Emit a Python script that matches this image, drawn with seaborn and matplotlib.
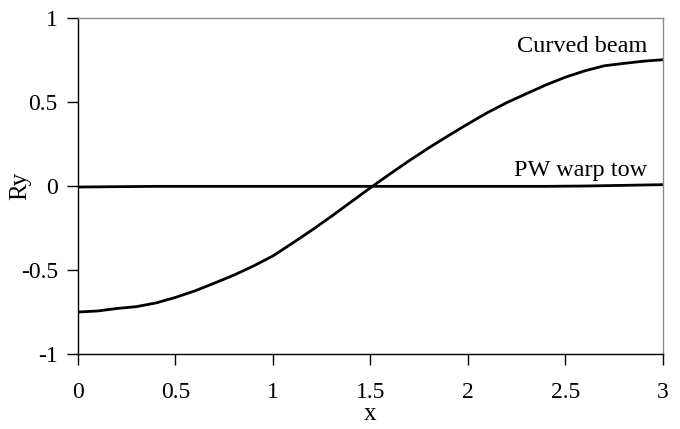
import matplotlib
matplotlib.use("Agg")
import matplotlib.pyplot as plt
import seaborn as sns
import pandas as pd

# Position along the member
x_vals = [0.0, 0.1, 0.2, 0.3, 0.4, 0.5, 0.6, 0.7, 0.8, 0.9, 1.0,
          1.1, 1.2, 1.3, 1.4, 1.5, 1.6, 1.7, 1.8, 1.9, 2.0,
          2.1, 2.2, 2.3, 2.4, 2.5, 2.6, 2.7, 2.8, 2.9, 3.0]

# Ry response for each model
curved_beam = [-0.750, -0.744, -0.729, -0.718, -0.696, -0.663, -0.624, -0.578, -0.530, -0.476, -0.416,
               -0.340, -0.262, -0.180, -0.095, -0.010, 0.072, 0.152, 0.228, 0.300, 0.370,
               0.437, 0.497, 0.550, 0.602, 0.648, 0.686, 0.716, 0.730, 0.743, 0.752]
pw_warp_tow = [-0.006, -0.005, -0.004, -0.003, -0.002, -0.002, -0.002, -0.002, -0.002, -0.002, -0.002,
               -0.002, -0.002, -0.002, -0.002, -0.002, -0.002, -0.002, -0.002, -0.002, -0.002,
               -0.002, -0.002, -0.002, -0.002, -0.001, 0.000, 0.002, 0.004, 0.006, 0.008]

series_names = ["Curved beam", "PW warp tow"]
x_ticks = [0, 0.5, 1, 1.5, 2, 2.5, 3]
x_tick_labels = ["0", "0.5", "1", "1.5", "2", "2.5", "3"]
y_ticks = [-1, -0.5, 0, 0.5, 1]
y_tick_labels = ["-1", "-0.5", "0", "0.5", "1"]

df = pd.concat([
    pd.DataFrame({"x": x_vals, "Ry": curved_beam, "model": series_names[0]}),
    pd.DataFrame({"x": x_vals, "Ry": pw_warp_tow, "model": series_names[1]}),
])

sns.set_theme(style="white")
plt.rcParams["font.family"] = ["Liberation Serif", "DejaVu Serif"]

fig = plt.figure(figsize=(6.8, 4.29), dpi=100)
ax = fig.add_axes([0.1147, 0.1748, 0.8603, 0.7832])

sns.lineplot(data=df, x="x", y="Ry", hue="model", palette=["black", "black"],
             linewidth=2.0, legend=False, ax=ax)

ax.set_xlim(0, 3)
ax.set_ylim(-1, 1)
ax.set_xticks(x_ticks)
ax.set_xticklabels(x_tick_labels)
ax.set_yticks(y_ticks)
ax.set_yticklabels(y_tick_labels)
ax.tick_params(axis="both", which="major", bottom=True, left=True,
               direction="out", length=8, width=1, color="black",
               labelsize=17, labelcolor="black")
ax.tick_params(axis="y", pad=6.5)
ax.tick_params(axis="x", pad=12.5)

ax.set_xlabel("x", fontsize=18, color="black")
ax.set_ylabel("Ry", fontsize=18, color="black")
ax.xaxis.set_label_coords(0.5, -0.18)
ax.yaxis.set_label_coords(-0.099, 0.5)
ax.xaxis.label.set_va("center")
ax.yaxis.label.set_va("center")

for side in ["left", "bottom"]:
    ax.spines[side].set_color("black")
    ax.spines[side].set_linewidth(1.0)
for side in ["top", "right"]:
    ax.spines[side].set_color("#8c8c8c")
    ax.spines[side].set_linewidth(1.0)

ax.text(2.92, 0.83, series_names[0], ha="right", va="center", fontsize=17.5, color="black")
ax.text(2.92, 0.09, series_names[1], ha="right", va="center", fontsize=17.5, color="black")

fig.savefig("out.png", dpi=100)
